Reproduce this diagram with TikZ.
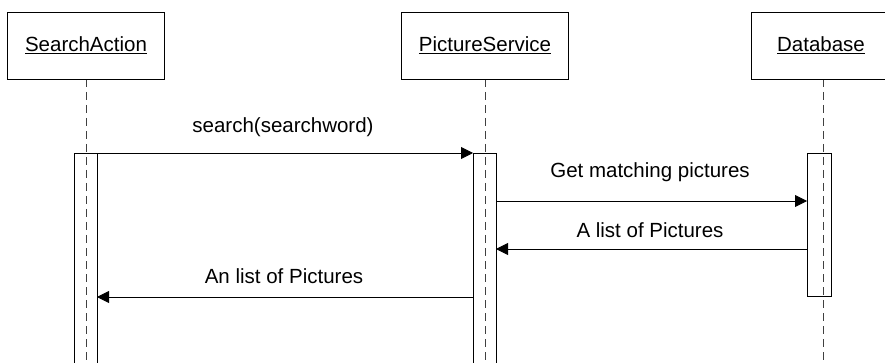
\documentclass[tikz,border=0pt]{standalone}
\usepackage{fontspec}
\setmainfont{Liberation Sans}
\usetikzlibrary{arrows.meta}
\begin{document}
\begin{tikzpicture}[x=1pt,y=-1pt,
  objbox/.style={draw=black,line width=0.9pt,fill=white},
  lifeline/.style={draw=black!75,line width=0.9pt,dash pattern=on 8pt off 5pt},
  actbox/.style={draw=black,line width=0.9pt,fill=white},
  msg/.style={draw=black,line width=0.9pt,-{Triangle[length=12pt,width=12pt]}},
  lbl/.style={font=\fontsize{20.5}{24}\selectfont,inner sep=0pt}]
\useasboundingbox (0,0) rectangle (885,363);
% lifelines
\coordinate (l1top) at (86,79); \coordinate (l1bot) at (86,363);
\coordinate (l2top) at (485,79); \coordinate (l2bot) at (485,363);
\coordinate (l3top) at (823,79); \coordinate (l3bot) at (823,363);
% activations (drawn first, lifelines over them)
\path[actbox] (74,153) rectangle (97,370);
\path[actbox] (473,153) rectangle (496,370);
\path[actbox] (807,153) rectangle (831,296);
\draw[lifeline] (l1top) -- (l1bot);
\draw[lifeline] (l2top) -- (l2bot);
\draw[lifeline] (l3top) -- (l3bot);
% object boxes
\node[objbox,minimum width=157pt,minimum height=67pt,anchor=north west,inner sep=0pt] (sa) at (7,12) {};
\node[objbox,minimum width=167pt,minimum height=67pt,anchor=north west,inner sep=0pt] (ps) at (401,12) {};
\node[objbox,minimum width=134pt,minimum height=67pt,anchor=north west,inner sep=0pt] (db) at (751,12) {};
\node[lbl,anchor=base] (satxt) at (86,52) {\underline{SearchAction}};
\node[lbl,anchor=base] (pstxt) at (485,52) {\underline{PictureService}};
\node[lbl,anchor=base] (dbtxt) at (821,52) {\underline{Database}};
% message endpoints
\coordinate (m1s) at (97,153); \coordinate (m1e) at (473,153);
\coordinate (m2s) at (496,201); \coordinate (m2e) at (807,201);
\coordinate (m3s) at (807,249); \coordinate (m3e) at (496,249);
\coordinate (m4s) at (473,297); \coordinate (m4e) at (97,297);
\draw[msg] (m1s) -- (m1e);
\draw[msg] (m2s) -- (m2e);
\draw[msg] (m3s) -- (m3e);
\draw[msg] (m4s) -- (m4e);
\node[lbl,anchor=base] (t1) at (283,133) {search(searchword)};
\node[lbl,anchor=base] (t2) at (650,178) {Get matching pictures};
\node[lbl,anchor=base] (t3) at (650,237) {A list of Pictures};
\node[lbl,anchor=base] (t4) at (284,283) {An list of Pictures};
\end{tikzpicture}
\end{document}
